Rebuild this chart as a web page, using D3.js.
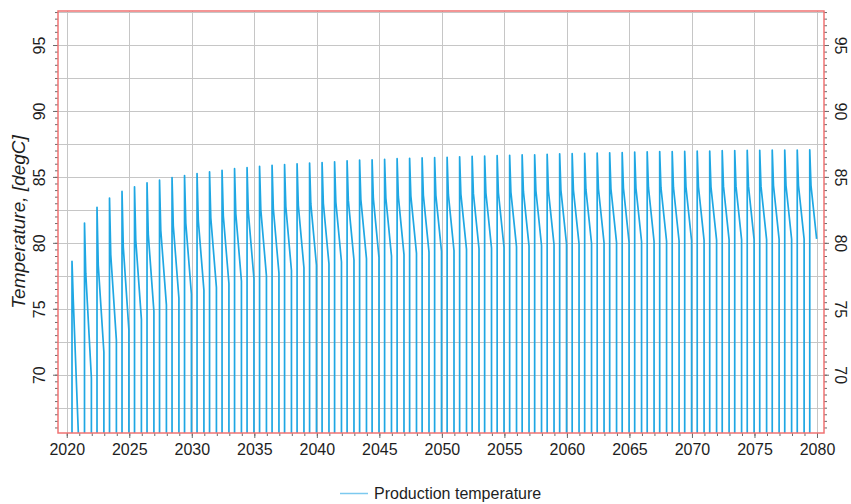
<!DOCTYPE html>
<html>
<head>
<meta charset="utf-8">
<script src="https://cdn.jsdelivr.net/npm/d3@7"></script>
<style>
  html, body { margin: 0; padding: 0; background: #fff; }
  svg { display: block; font-family: "Liberation Sans", Arial, sans-serif; }
</style>
</head>
<body>
<svg id="chart" width="851" height="504"></svg>
<script>
// Seasonal production cycles: one per year, starting mid-year
const cycleYears = d3.range(2020, 2080);
const riseOffset = 0.42;     // fraction of the year when production starts
const kneeOffset = 0.10;     // years after start where the fast drop eases
const cycleLength = 0.55;    // years of production per cycle
const shutInTemp = 60;       // well temperature while shut in

// Peak temperature at the start of each cycle
const peakTemp = [
  78.6, 81.5, 82.7, 83.4, 83.9, 84.25, 84.55, 84.75, 84.95, 85.1,
  85.25, 85.38, 85.5, 85.62, 85.7, 85.8, 85.88, 85.94, 85.99, 86.05,
  86.09, 86.15, 86.22, 86.28, 86.3, 86.34, 86.38, 86.41, 86.44, 86.46,
  86.49, 86.52, 86.56, 86.58, 86.61, 86.64, 86.67, 86.68, 86.71, 86.75,
  86.76, 86.78, 86.81, 86.83, 86.84, 86.88, 86.9, 86.92, 86.92, 86.93,
  86.95, 86.96, 86.99, 87.0, 87.01, 87.02, 87.03, 87.04, 87.04, 87.05
];
// Temperature after the initial fast decline
const kneeTemp = [
  75.7, 77.7, 78.3, 79.1, 79.7, 80.2, 80.65, 80.95, 81.3, 81.5,
  81.7, 81.9, 82.05, 82.2, 82.35, 82.5, 82.6, 82.75, 82.85, 82.95,
  83.0, 83.1, 83.2, 83.3, 83.35, 83.4, 83.5, 83.55, 83.6, 83.6,
  83.65, 83.7, 83.75, 83.8, 83.8, 83.85, 83.9, 83.95, 83.95, 84.0,
  84.0, 84.05, 84.1, 84.1, 84.15, 84.15, 84.2, 84.2, 84.2, 84.25,
  84.25, 84.25, 84.3, 84.3, 84.3, 84.3, 84.35, 84.35, 84.35, 84.35
];
// Temperature at the end of each production period
const endTemp = [
  64.5, 69.75, 71.7, 72.6, 73.4, 74.2, 74.8, 75.3, 75.8, 76.1,
  76.4, 76.6, 76.9, 77.1, 77.3, 77.5, 77.7, 77.9, 78.1, 78.3,
  78.4, 78.55, 78.7, 78.8, 78.9, 79.0, 79.1, 79.2, 79.3, 79.35,
  79.4, 79.5, 79.55, 79.6, 79.65, 79.7, 79.75, 79.8, 79.85, 79.9,
  79.92, 79.95, 80.0, 80.02, 80.05, 80.08, 80.1, 80.12, 80.14, 80.16,
  80.18, 80.2, 80.22, 80.23, 80.24, 80.25, 80.26, 80.27, 80.28, 80.3
];

const yMajorTicks = [70, 75, 80, 85, 90, 95];
const yGridTicks = [67.5, 70, 72.5, 75, 77.5, 80, 82.5, 85, 87.5, 90, 92.5, 95, 97.5];
const xMajorTicks = [2020, 2025, 2030, 2035, 2040, 2045, 2050, 2055, 2060, 2065, 2070, 2075, 2080];
const yAxisTitle = "Temperature, [degC]";
const seriesName = "Production temperature";

// Build the time series from the cycle tables
const series = [];
cycleYears.forEach((yr, i) => {
  const t0 = yr + riseOffset;
  const t1 = t0 + cycleLength;
  series.push({ t: t0, v: shutInTemp });
  series.push({ t: t0, v: peakTemp[i] });
  series.push({ t: t0 + kneeOffset, v: kneeTemp[i] });
  series.push({ t: t1, v: endTemp[i] });
  if (i < cycleYears.length - 1) series.push({ t: t1, v: shutInTemp });
});

const svg = d3.select("#chart");
const plot = { left: 58, right: 824, top: 11, bottom: 433 };

const x = d3.scaleLinear().domain([2019.30, 2080.56]).range([plot.left, plot.right]);
const y = d3.scaleLinear().domain([65.58, 97.58]).range([plot.bottom, plot.top]);

const frameColor = "#f07373";
const lineColor = "#1fa7e3";

// Grid
const grid = svg.append("g");
grid.selectAll("line.h").data(yGridTicks).join("line")
  .attr("x1", plot.left).attr("x2", plot.right)
  .attr("y1", d => Math.round(y(d)) + 0.5).attr("y2", d => Math.round(y(d)) + 0.5)
  .attr("stroke", "#c6c6c6").attr("stroke-width", 1);
grid.selectAll("line.v").data(xMajorTicks).join("line")
  .attr("y1", plot.top).attr("y2", plot.bottom)
  .attr("x1", d => Math.round(x(d)) + 0.5).attr("x2", d => Math.round(x(d)) + 0.5)
  .attr("stroke", "#c6c6c6").attr("stroke-width", 1);

// Data line, clipped to the plot area
svg.append("clipPath").attr("id", "plotClip")
  .append("rect").attr("x", plot.left).attr("y", plot.top)
  .attr("width", plot.right - plot.left).attr("height", plot.bottom - plot.top);

const line = d3.line().x(d => x(d.t)).y(d => y(d.v));
svg.append("path")
  .datum(series)
  .attr("clip-path", "url(#plotClip)")
  .attr("fill", "none")
  .attr("stroke", lineColor)
  .attr("stroke-width", 1.7)
  .attr("stroke-linejoin", "round")
  .attr("d", line);

// Axes
const tickColor = "#6a6a6a";
const yMinor = d3.range(66, 97.51, 0.5);
const xMinor = d3.range(2020, 2081, 1);

function styleAxis(g) {
  g.select(".domain").remove();
  g.selectAll(".tick line").attr("stroke", tickColor);
  g.selectAll("text").attr("fill", "#1e1e1e").style("font-size", "16px")
    .style("font-family", "'Liberation Sans', Arial, sans-serif");
}

// Left
svg.append("g").attr("transform", `translate(${plot.left},0)`)
  .call(d3.axisLeft(y).tickValues(yMinor).tickSize(3).tickFormat(""))
  .call(styleAxis);
const gl = svg.append("g").attr("transform", `translate(${plot.left},0)`)
  .call(d3.axisLeft(y).tickValues(yMajorTicks).tickSize(5))
  .call(styleAxis);
gl.selectAll("text").attr("x", null).attr("dy", null)
  .attr("text-anchor", "middle")
  .attr("transform", "translate(-13,0) rotate(-90)");

// Right
svg.append("g").attr("transform", `translate(${plot.right},0)`)
  .call(d3.axisRight(y).tickValues(yMinor).tickSize(3).tickFormat(""))
  .call(styleAxis);
const gr = svg.append("g").attr("transform", `translate(${plot.right},0)`)
  .call(d3.axisRight(y).tickValues(yMajorTicks).tickSize(5))
  .call(styleAxis);
gr.selectAll("text").attr("x", null).attr("dy", null)
  .attr("text-anchor", "middle")
  .attr("transform", "translate(11,0) rotate(90)");

// Bottom
svg.append("g").attr("transform", `translate(0,${plot.bottom})`)
  .call(d3.axisBottom(x).tickValues(xMinor).tickSize(3).tickFormat(""))
  .call(styleAxis);
const gb = svg.append("g").attr("transform", `translate(0,${plot.bottom})`)
  .call(d3.axisBottom(x).tickValues(xMajorTicks).tickSize(5).tickFormat(d3.format("d")))
  .call(styleAxis);
gb.selectAll("text").attr("y", 22).attr("dy", null);

// Frame
svg.append("rect")
  .attr("x", plot.left).attr("y", plot.top)
  .attr("width", plot.right - plot.left).attr("height", plot.bottom - plot.top)
  .attr("fill", "none").attr("stroke", frameColor).attr("stroke-width", 1.5);

// Axis title
svg.append("text")
  .attr("transform", `translate(25,${(plot.top + plot.bottom) / 2}) rotate(-90)`)
  .attr("text-anchor", "middle")
  .style("font-size", "19px").style("font-style", "italic")
  .attr("fill", "#1e1e1e")
  .text(yAxisTitle);

// Legend
const legend = svg.append("g");
legend.append("line")
  .attr("x1", 340).attr("x2", 368).attr("y1", 493.5).attr("y2", 493.5)
  .attr("stroke", "#7cc9ef").attr("stroke-width", 1.5);
legend.append("text")
  .attr("x", 374).attr("y", 499)
  .style("font-size", "16px").attr("fill", "#1e1e1e")
  .text(seriesName);
</script>
</body>
</html>
